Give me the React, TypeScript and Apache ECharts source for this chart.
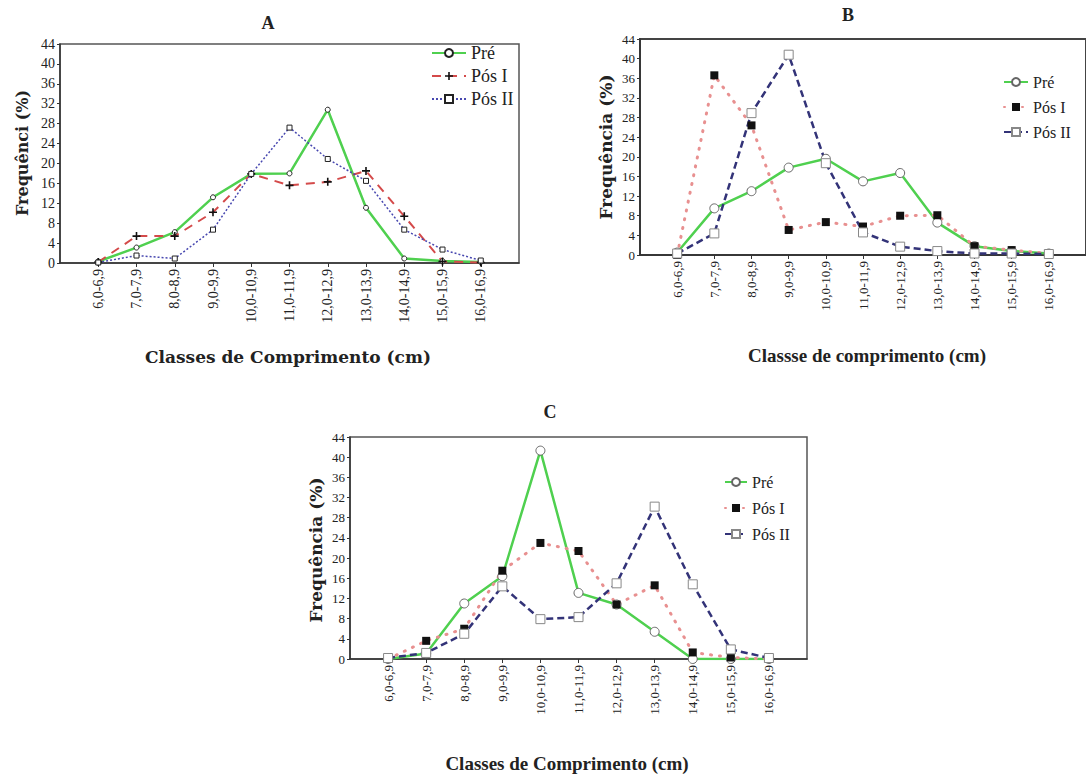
import React, { useEffect, useRef } from "react";
import * as echarts from "echarts";

const categories = ["6,0-6,9", "7,0-7,9", "8,0-8,9", "9,0-9,9", "10,0-10,9", "11,0-11,9", "12,0-12,9", "13,0-13,9", "14,0-14,9", "15,0-15,9", "16,0-16,9"];
const yTicks = { min: 0, max: 44, interval: 4 };
const seriesNames = ["Pré", "Pós I", "Pós II"];

const aPre = [0.3, 3.1, 6.2, 13.2, 17.9, 18.0, 30.8, 11.1, 0.9, 0.4, 0.2];
const aPos1 = [0.2, 5.4, 5.4, 10.2, 17.9, 15.6, 16.3, 18.5, 9.4, 0.3, 0.1];
const aPos2 = [0.1, 1.5, 0.9, 6.7, 17.9, 27.2, 20.9, 16.5, 6.7, 2.7, 0.5];

const bPre = [0.5, 9.5, 13.0, 17.8, 19.6, 15.0, 16.7, 6.6, 1.8, 0.8, 0.3];
const bPos1 = [0.0, 36.6, 26.4, 5.1, 6.7, 5.8, 8.0, 8.1, 1.8, 1.0, 0.3];
const bPos2 = [0.3, 4.4, 28.9, 40.8, 18.7, 4.6, 1.7, 0.8, 0.3, 0.3, 0.2];

const cPre = [0.0, 1.1, 11.0, 16.4, 41.3, 13.1, 10.8, 5.4, 0.0, 0.0, 0.0];
const cPos1 = [0.0, 3.6, 6.0, 17.5, 23.0, 21.4, 10.8, 14.6, 1.3, 0.3, 0.0];
const cPos2 = [0.2, 1.2, 5.0, 14.4, 7.9, 8.3, 15.0, 30.2, 14.8, 1.9, 0.2];

const PLUS = "path://M4,0H6V4H10V6H6V10H4V6H0V4H4Z";
const SERIF = "'Liberation Serif', 'Times New Roman', serif";
const DSERIF = "'DejaVu Serif', serif";

// category i is placed at position i + 1 on a 0..12 scale (one empty slot at each end)
const toPts = (arr: number[]) => arr.map((v, i) => [i + 1, v]);

export default function App() {
  const ref = useRef<HTMLDivElement>(null);
  useEffect(() => {
    if (!ref.current) return;
    const chart = echarts.init(ref.current, undefined, { renderer: "svg" });

    const grids = [
      { left: 60, top: 44, width: 459, height: 219, show: true, borderColor: "#555", borderWidth: 1.5, backgroundColor: "transparent" },
      { left: 640, top: 39, width: 452, height: 216, show: true, borderColor: "#444", borderWidth: 2, backgroundColor: "transparent" },
      { left: 350, top: 437, width: 457, height: 222, show: true, borderColor: "#555", borderWidth: 1.5, backgroundColor: "transparent" },
    ];
    const labelSizes = [14, 13, 13];

    const xAxes = grids.map((_, g) => ({
      type: "value",
      gridIndex: g,
      min: 0,
      max: 12,
      interval: 1,
      axisLine: { show: true, onZero: false, lineStyle: { color: "#333", width: 1.5 } },
      axisTick: { show: true, length: 4, lineStyle: { color: "#333" } },
      splitLine: { show: false },
      axisLabel: {
        rotate: 90,
        margin: 6,
        fontFamily: SERIF,
        fontSize: labelSizes[g],
        color: "#222",
        showMinLabel: false,
        showMaxLabel: false,
        formatter: (v: number) => categories[Math.round(v) - 1] ?? "",
      },
    }));
    const yAxes = grids.map((_, g) => ({
      type: "value",
      gridIndex: g,
      position: "left",
      min: yTicks.min,
      max: yTicks.max,
      interval: yTicks.interval,
      axisLine: { show: true, onZero: false, lineStyle: { color: "#333", width: 1.5 } },
      axisTick: { show: true, length: 3, lineStyle: { color: "#333" } },
      splitLine: { show: false },
      axisLabel: { margin: 5, fontFamily: SERIF, fontSize: labelSizes[g], color: "#222" },
    }));

    const mk = (g: number, key: string, name: string, data: number[], line: any, symbol: string, size: number, item: any) => ({
      type: "line",
      name: key + "|" + name,
      xAxisIndex: g,
      yAxisIndex: g,
      data: toPts(data),
      symbol,
      symbolSize: size,
      lineStyle: line,
      itemStyle: item,
      emphasis: { disabled: true },
    });

    const green = "#4fd04f";
    const series = [
      mk(0, "A", "Pré", aPre, { color: green, width: 2.5, type: "solid" }, "circle", 5, { color: "#fff", borderColor: "#222", borderWidth: 1 }),
      mk(0, "A", "Pós I", aPos1, { color: "#d44a4a", width: 2, type: [9, 7] }, PLUS, 8, { color: "#111" }),
      mk(0, "A", "Pós II", aPos2, { color: "#4848b0", width: 1.5, type: [2, 2] }, "rect", 5, { color: "#fff", borderColor: "#222", borderWidth: 1 }),

      mk(1, "B", "Pré", bPre, { color: green, width: 2.5, type: "solid" }, "circle", 9, { color: "#fff", borderColor: "#666", borderWidth: 1 }),
      mk(1, "B", "Pós I", bPos1, { color: "#e89090", width: 3, type: [1, 8], cap: "round" }, "rect", 8, { color: "#111" }),
      mk(1, "B", "Pós II", bPos2, { color: "#333378", width: 2.5, type: [7, 4] }, "rect", 9, { color: "#fff", borderColor: "#888", borderWidth: 1 }),

      mk(2, "C", "Pré", cPre, { color: green, width: 2.5, type: "solid" }, "circle", 9, { color: "#fff", borderColor: "#666", borderWidth: 1 }),
      mk(2, "C", "Pós I", cPos1, { color: "#e89090", width: 3, type: [1, 8], cap: "round" }, "rect", 8, { color: "#111" }),
      mk(2, "C", "Pós II", cPos2, { color: "#333378", width: 2.5, type: [7, 4] }, "rect", 9, { color: "#fff", borderColor: "#888", borderWidth: 1 }),
    ];

    const legend = (key: string, left: number, top: number, w: number, fs: number, gap: number) => ({
      orient: "vertical",
      left,
      top,
      itemWidth: w,
      itemHeight: 10,
      itemGap: gap,
      selectedMode: false,
      data: seriesNames.map((n) => key + "|" + n),
      formatter: (n: string) => n.split("|")[1],
      textStyle: { fontFamily: SERIF, fontSize: fs, color: "#222", lineHeight: fs + 2 },
    });

    const txt = (x: number, y: number, text: string, font: string, size: number, rot = 0) => ({
      type: "text",
      x,
      y,
      rotation: rot,
      style: {
        text,
        fontFamily: font,
        fontSize: size,
        fontWeight: "bold",
        fill: "#222",
        align: "center",
        verticalAlign: "middle",
      },
    });
    const R = Math.PI / 2;

    chart.setOption({
      animation: false,
      backgroundColor: "#fff",
      grid: grids,
      xAxis: xAxes,
      yAxis: yAxes,
      series,
      legend: [
        legend("A", 426, 38, 34, 18, 3),
        legend("B", 998, 68, 24, 16, 7),
        legend("C", 719, 468, 22, 16, 8),
      ],
      graphic: [
        txt(268, 23, "A", SERIF, 18),
        txt(848, 15, "B", SERIF, 18),
        txt(550, 412, "C", SERIF, 18),
        txt(22, 153, "Frequênci (%)", DSERIF, 16, R),
        txt(288, 357, "Classes de Comprimento (cm)", DSERIF, 17),
        txt(606, 147, "Frequência (%)", DSERIF, 17, R),
        txt(867, 355, "Classse de comprimento (cm)", SERIF, 19),
        txt(316, 550, "Frequência (%)", DSERIF, 17, R),
        txt(567, 763, "Classes de Comprimento (cm)", SERIF, 19),
      ],
    });
    return () => chart.dispose();
  }, []);
  return <div ref={ref} style={{ position: "absolute", left: 0, top: 0, width: 1086, height: 777 }} />;
}
